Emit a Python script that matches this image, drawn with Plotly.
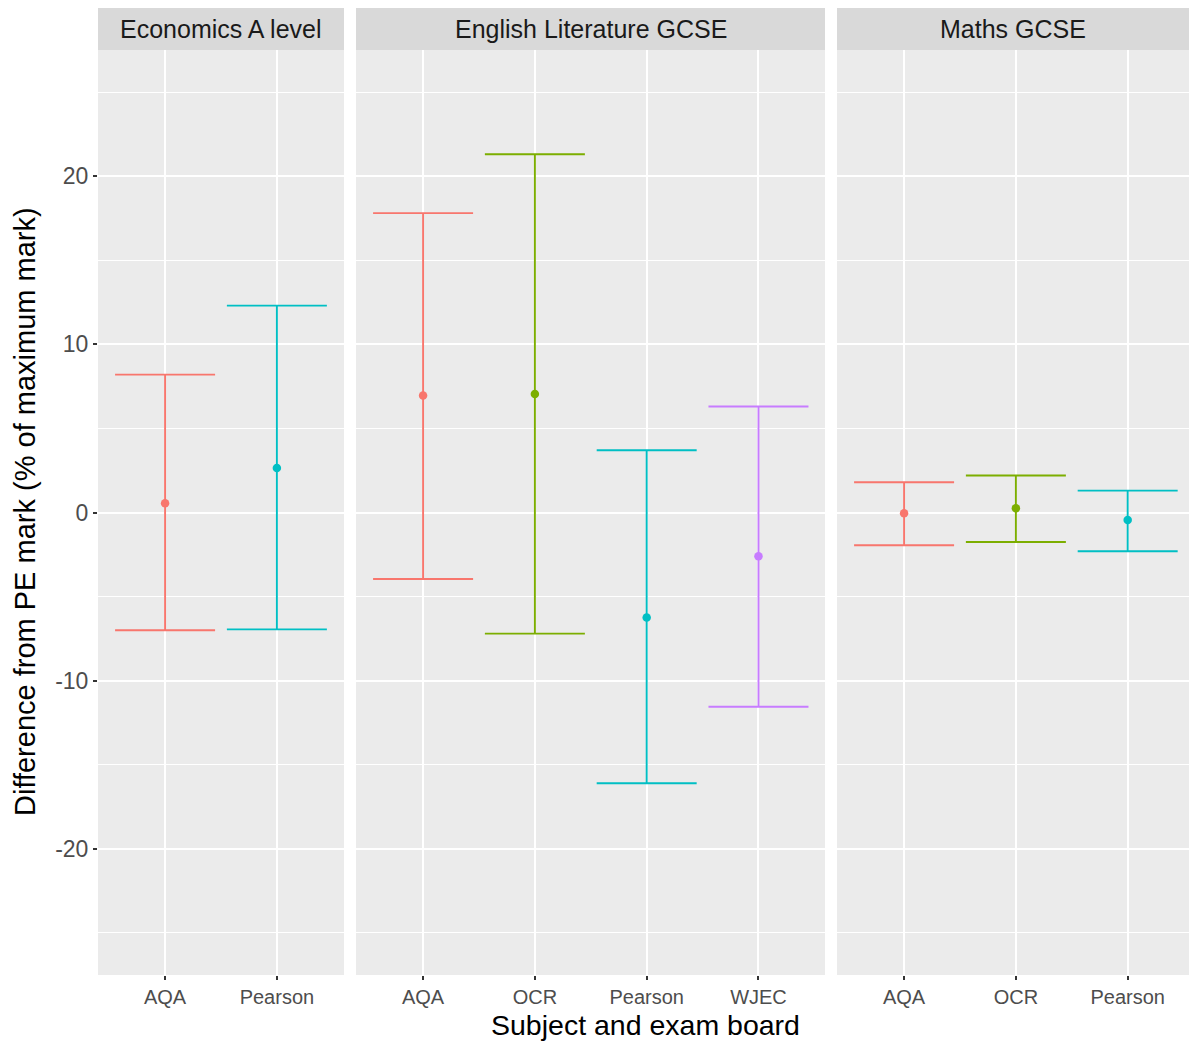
import plotly.graph_objects as go

# Facets (subject) and the exam boards within each
subjects = ["Economics A level", "English Literature GCSE", "Maths GCSE"]
econ_boards = ["AQA", "Pearson"]
eng_boards = ["AQA", "OCR", "Pearson", "WJEC"]
maths_boards = ["AQA", "OCR", "Pearson"]

# Mean difference from PE mark (% of maximum mark) with interval limits
econ_mean = [0.55, 2.65]
econ_low = [-7.0, -6.95]
econ_high = [8.2, 12.3]

eng_mean = [6.95, 7.05, -6.25, -2.6]
eng_low = [-3.95, -7.2, -16.1, -11.55]
eng_high = [17.8, 21.3, 3.7, 6.3]

maths_mean = [-0.05, 0.25, -0.45]
maths_low = [-1.95, -1.75, -2.3]
maths_high = [1.8, 2.2, 1.3]

board_colours = {"AQA": "#F8766D", "OCR": "#7CAE00", "Pearson": "#00BFC4", "WJEC": "#C77CFF"}

panels = [
    (econ_boards, econ_mean, econ_low, econ_high),
    (eng_boards, eng_mean, eng_low, eng_high),
    (maths_boards, maths_mean, maths_low, maths_high),
]

# Layout geometry (pixels)
W, H = 1189, 1041
ML, MR, MT, MB = 98, 0, 50, 66
PW = W - ML - MR
PH = H - MT - MB
panel_px = [(98, 344), (356, 825), (837, 1189)]
unit_px = 111.8
strip_h = 42

font_family = "Liberation Sans, Arial, sans-serif"

fig = go.Figure()

for i, (boards, mean, low, high) in enumerate(panels):
    xa = "x" if i == 0 else f"x{i + 1}"
    ya = "y" if i == 0 else f"y{i + 1}"
    for b, m, lo, hi in zip(boards, mean, low, high):
        c = board_colours[b]
        fig.add_trace(go.Scatter(
            x=[b], y=[m], mode="markers",
            marker=dict(color=c, size=8.5),
            error_y=dict(type="data", symmetric=False,
                         array=[hi - m], arrayminus=[m - lo],
                         color=c, thickness=1.9, width=50),
            xaxis=xa, yaxis=ya, showlegend=False, hoverinfo="skip",
        ))

layout = dict(
    width=W, height=H,
    margin=dict(l=ML, r=MR, t=MT, b=MB),
    paper_bgcolor="white",
    plot_bgcolor="#EBEBEB",
    font=dict(family=font_family, color="#4D4D4D"),
    showlegend=False,
)

ytickvals = [-20, -10, 0, 10, 20]
yticktext = ["-20", "-10", "0", "10", "20"]

annotations = []
shapes = []
for i, (boards, *_rest) in enumerate(panels):
    x0, x1 = panel_px[i]
    dom = [(x0 - ML) / PW, (x1 - ML) / PW]
    span = (x1 - x0) / unit_px
    suffix = "" if i == 0 else str(i + 1)
    layout["xaxis" + suffix] = dict(
        domain=dom, type="category", categoryorder="array", categoryarray=boards,
        range=[-0.6, -0.6 + span], anchor="y" + suffix,
        showgrid=True, gridcolor="white", gridwidth=1.8,
        ticks="outside", ticklen=4, tickwidth=1.5, tickcolor="#333333",
        tickfont=dict(size=20, color="#4D4D4D", family=font_family),
        ticklabelstandoff=0,
        showline=False, zeroline=False, fixedrange=True,
    )
    layout["yaxis" + suffix] = dict(
        domain=[0, 1], anchor="x" + suffix,
        range=[-27.5, 27.5],
        tickmode="array", tickvals=ytickvals, ticktext=yticktext,
        showticklabels=(i == 0),
        ticks="outside" if i == 0 else "", ticklen=4, tickwidth=1.5, tickcolor="#333333",
        tickfont=dict(size=23, color="#4D4D4D", family=font_family),
        showgrid=True, gridcolor="white", gridwidth=1.8,
        minor=dict(tickvals=[-25, -15, -5, 5, 15, 25], showgrid=True,
                   gridcolor="white", gridwidth=0.9, ticks=""),
        zeroline=False, showline=False, fixedrange=True,
    )
    if i > 0:
        layout["yaxis" + suffix]["matches"] = "y"

    # facet strip
    shapes.append(dict(
        type="rect", xref="x" + suffix + " domain", yref="paper",
        x0=0, x1=1, y0=1, y1=1 + strip_h / PH,
        fillcolor="#D9D9D9", line=dict(width=0), layer="below",
    ))
    annotations.append(dict(
        text=subjects[i], xref="x" + suffix + " domain", yref="paper",
        x=0.5, y=1 + (strip_h / 2) / PH, xanchor="center", yanchor="middle",
        showarrow=False, font=dict(size=25, color="#1A1A1A", family=font_family),
    ))

# axis titles
annotations.append(dict(
    text="Subject and exam board", xref="paper", yref="paper",
    x=(645 - ML) / PW, y=(MT + PH - 1025) / PH, xanchor="center", yanchor="middle",
    showarrow=False, font=dict(size=28.5, color="black", family=font_family),
))
annotations.append(dict(
    text="Difference from PE mark (% of maximum mark)", xref="paper", yref="paper",
    x=(25 - ML) / PW, y=(MT + PH - 512) / PH, xanchor="center", yanchor="middle",
    textangle=-90, showarrow=False,
    font=dict(size=29, color="black", family=font_family),
))

layout["shapes"] = shapes
layout["annotations"] = annotations
fig.update_layout(**layout)

fig.write_html("out.html")
